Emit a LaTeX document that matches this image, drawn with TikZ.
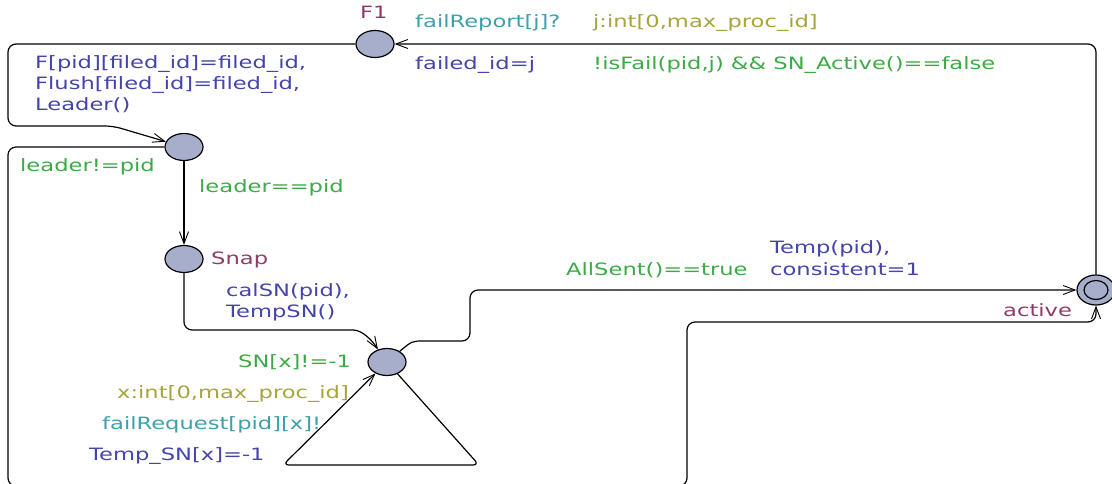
\documentclass[tikz,border=0pt]{standalone}
\usepackage{fontspec}
\setmainfont{DejaVu Sans}[FakeStretch=1.33]
\usetikzlibrary{shapes.geometric,arrows.meta}
\definecolor{locfill}{HTML}{A6AECC}
\definecolor{namecol}{HTML}{8E3B6B}
\definecolor{synccol}{HTML}{3EA0A8}
\definecolor{selcol}{HTML}{A5A53C}
\definecolor{guardcol}{HTML}{3DAA46}
\definecolor{assigncol}{HTML}{4444AA}
\begin{document}
\begin{tikzpicture}[x=1pt,y=-1pt,
  loc/.style={ellipse, draw, line width=1.2pt, fill=locfill,
    minimum width=38pt, minimum height=27pt, inner sep=0pt},
  trans/.style={line width=1.2pt, rounded corners=8pt,
    -{Straight Barb[length=12pt,width=9pt,line width=0.9pt]}},
  lbltext/.style={anchor=base west, inner sep=0pt, font=\fontsize{17}{21}\selectfont},
  locname/.style={lbltext, text=namecol},
  synclbl/.style={lbltext, text=synccol},
  sellbl/.style={lbltext, text=selcol},
  guardlbl/.style={lbltext, text=guardcol},
  assignlbl/.style={lbltext, text=assigncol},
]
\useasboundingbox (0,0) rectangle (1112,484);
\clip (0,0) rectangle (1112,484);

% locations
\node[loc] (f1) at (375,44) {};
\node[loc] (lead) at (184,147) {};
\node[loc] (snap) at (184,259) {};
\node[loc] (cons) at (387,362) {};
\node[loc, minimum height=30pt] (act) at (1096,290) {};
\node[ellipse, draw, line width=1.2pt, minimum width=24pt, minimum height=19pt,
  inner sep=0pt] (actin) at (1096,290) {};

% location names
\node[locname] (nf1) at (360,19) {F1};
\node[locname] (nsnap) at (211,265) {Snap};
\node[locname] (nact) at (1003,316) {active};

% active -> F1
\draw[trans] (act) -- (1096,44) -- (f1);
\node[synclbl] (l1a) at (415,28) {failReport[j]?};
\node[sellbl] (l1b) at (593,28) {j:int[0,max\_proc\_id]};
\node[assignlbl] (l1c) at (415,70) {failed\_id=j};
\node[guardlbl] (l1d) at (593,70) {!isFail(pid,j) \&\& SN\_Active()==false};

% F1 -> leader election
\draw[trans] (f1) -- (8,44) -- (8,126) -- (113,126) -- (lead);
\node[assignlbl] (l2a) at (35,69) {F[pid][filed\_id]=filed\_id,};
\node[assignlbl] (l2b) at (35,90) {Flush[filed\_id]=filed\_id,};
\node[assignlbl] (l2c) at (35,111) {Leader()};

% leader -> Snap
\draw[trans] (lead) -- (snap);
\node[guardlbl] (l3) at (199,193) {leader==pid};

% non leader -> active
\draw[trans] (lead) -- (8,147) -- (8,486) -- (687,486) -- (687,322) -- (1096,322) -- (act);
\node[guardlbl] (l4) at (20,172) {leader!=pid};

% Snap -> collecting
\draw[trans] (snap) -- (184,330) -- (345,330) .. controls (362,330) and (372,340) .. (cons.126);
\node[assignlbl] (l5a) at (226,296) {calSN(pid),};
\node[assignlbl] (l5b) at (226,317) {TempSN()};

% collecting -> active
\draw[trans] (cons.40) .. controls (412,341) .. (432,341) -- (470,341) -- (470,290) -- (act);
\node[guardlbl] (l6a) at (566,275) {AllSent()==true};
\node[assignlbl] (l6b) at (770,254) {Temp(pid),};
\node[assignlbl] (l6c) at (770,275) {consistent=1};

% self loop on collecting
\draw[trans, rounded corners=6pt] (cons) -- (479,465) -- (283,465) -- (cons);
\node[guardlbl] (l7a) at (238,367) {SN[x]!=-1};
\node[sellbl] (l7b) at (117,398) {x:int[0,max\_proc\_id]};
\node[synclbl] (l7c) at (102,429) {failRequest[pid][x]!};
\node[assignlbl] (l7d) at (89,460) {Temp\_SN[x]=-1};
\end{tikzpicture}
\end{document}
